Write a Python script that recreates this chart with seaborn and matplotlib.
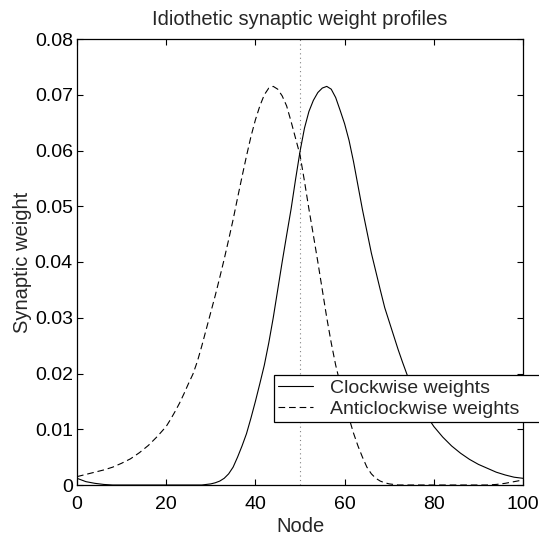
import matplotlib
matplotlib.use("Agg")
import matplotlib.pyplot as plt
import seaborn as sns
import pandas as pd

# ---- data ----
nodes = [0, 2, 4, 6, 8, 10, 12, 14, 16, 18] + list(range(20, 81)) + [82, 84, 86, 88, 90, 92, 94, 96, 98, 100]

clockwise = [
    # 0..18 (step 2)
    0.0012, 0.0006, 0.0003, 0.0001, 0.0, 0.0, 0.0, 0.0, 0.0, 0.0,
    # 20..29
    0.0, 0.0, 0.0, 0.0, 0.0, 0.0, 0.0, 0.0, 0.0, 0.0001,
    # 30..39
    0.0002, 0.0004, 0.0007, 0.0012, 0.0020, 0.0032, 0.0050, 0.0070, 0.0092, 0.0120,
    # 40..49
    0.0150, 0.0182, 0.0215, 0.0255, 0.0300, 0.0350, 0.0400, 0.0448, 0.0495, 0.0548,
    # 50..59
    0.0598, 0.0640, 0.0670, 0.0690, 0.0704, 0.0712, 0.0715, 0.0710, 0.0695, 0.0672,
    # 60..69
    0.0648, 0.0618, 0.0580, 0.0537, 0.0494, 0.0455, 0.0416, 0.0383, 0.0350, 0.0318,
    # 70..80
    0.0293, 0.0268, 0.0243, 0.0220, 0.0198, 0.0179, 0.0162, 0.0146, 0.0131, 0.0117, 0.0105,
    # 82..100 (step 2)
    0.0086, 0.0070, 0.0057, 0.0046, 0.0037, 0.0030, 0.0023, 0.0018, 0.0014, 0.0012,
]

anticlockwise = [
    # 0..18 (step 2)
    0.0015, 0.0019, 0.0023, 0.0027, 0.0032, 0.0039, 0.0047, 0.0058, 0.0071, 0.0087,
    # 20..29
    0.0105, 0.0118, 0.0132, 0.0147, 0.0164, 0.0182, 0.0199, 0.0222, 0.0250, 0.0280,
    # 30..39
    0.0310, 0.0340, 0.0372, 0.0405, 0.0440, 0.0476, 0.0515, 0.0553, 0.0590, 0.0625,
    # 40..49
    0.0655, 0.0680, 0.0700, 0.0712, 0.0715, 0.0710, 0.0698, 0.0680, 0.0652, 0.0622,
    # 50..59
    0.0592, 0.0545, 0.0495, 0.0448, 0.0400, 0.0350, 0.0300, 0.0255, 0.0215, 0.0182,
    # 60..69
    0.0150, 0.0120, 0.0093, 0.0070, 0.0050, 0.0032, 0.0020, 0.0012, 0.0007, 0.0004,
    # 70..80
    0.0002, 0.0001, 0.0, 0.0, 0.0, 0.0, 0.0, 0.0, 0.0, 0.0, 0.0,
    # 82..100 (step 2)
    0.0, 0.0, 0.0, 0.0, 0.0, 0.0, 0.0001, 0.0003, 0.0006, 0.0009,
]

x_ticks = [0, 20, 40, 60, 80, 100]
y_ticks = [0, 0.01, 0.02, 0.03, 0.04, 0.05, 0.06, 0.07, 0.08]
y_tick_labels = ["0", "0.01", "0.02", "0.03", "0.04", "0.05", "0.06", "0.07", "0.08"]
centre_node = 50
labels = ["Clockwise weights", "Anticlockwise weights"]

df = pd.DataFrame({"Node": nodes + nodes,
                   "Weight": clockwise + anticlockwise,
                   "Series": [labels[0]] * len(nodes) + [labels[1]] * len(nodes)})

sns.set_style("ticks")
plt.rcParams["font.family"] = ["Liberation Sans", "DejaVu Sans"]

fig = plt.figure(figsize=(5.39, 5.35), dpi=100)
ax = fig.add_axes([77 / 539, 1 - 485 / 535, 446 / 539, 446 / 535])

sns.lineplot(data=df, x="Node", y="Weight", style="Series",
             dashes={labels[0]: "", labels[1]: (6, 3.5)},
             color="black", linewidth=0.8, ax=ax, legend=True)
ax.axvline(centre_node, color="#808080", linestyle=(0, (1, 3)), linewidth=0.8, zorder=0)

ax.set_xlim(0, 100)
ax.set_ylim(0, 0.08)
ax.set_xticks(x_ticks)
ax.set_yticks(y_ticks)
ax.set_yticklabels(y_tick_labels)
ax.tick_params(direction="in", top=True, right=True, length=4, width=0.8,
               labelsize=14, colors="black")
ax.tick_params(axis="x", pad=8)
ax.tick_params(axis="y", pad=3)
for s in ax.spines.values():
    s.set_visible(True)
    s.set_linewidth(0.9)
    s.set_color("black")

ax.set_title("Idiothetic synaptic weight profiles", fontsize=14.5, pad=10)
ax.set_xlabel("Node", fontsize=14.5, labelpad=2.5)
ax.set_ylabel("Synaptic weight", fontsize=14.5, labelpad=2)

h, l = ax.get_legend_handles_labels()
leg = ax.legend(h, l, loc="upper left", bbox_to_anchor=(0.442, 0.196, 0.62, 0.05),
                mode="expand",
                frameon=True, fancybox=False, edgecolor="black", framealpha=1,
                fontsize=14, handlelength=1.8, borderpad=0.2, labelspacing=0.2,
                handletextpad=0.85, borderaxespad=0)
leg.get_frame().set_linewidth(0.9)
leg.set_clip_on(False)

fig.savefig("out.png", dpi=100)
